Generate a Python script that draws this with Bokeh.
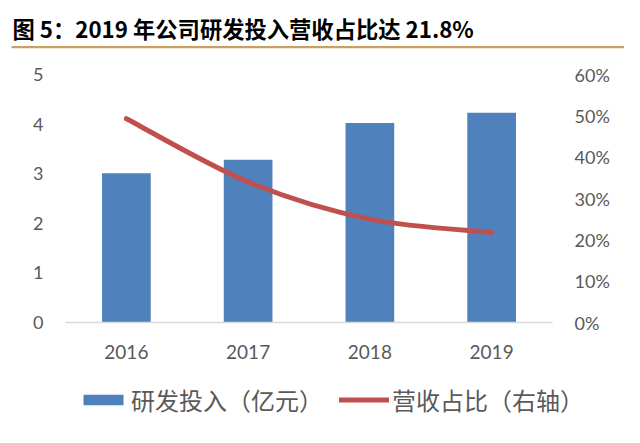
from bokeh.plotting import figure
from bokeh.layouts import column, row
from bokeh.models import (FactorRange, Range1d, LinearAxis, Legend, LegendItem,
                          PrintfTickFormatter)
from bokeh.core.properties import value
from bokeh.embed import file_html
from bokeh.resources import INLINE

# ---- data ----
years = ["2016", "2017", "2018", "2019"]
rd_spend = [3.01, 3.28, 4.02, 4.23]          # 研发投入（亿元）
rev_ratio = [49.3, 34.0, 25.0, 21.8]         # 营收占比（%），右轴
left_ticks = [0, 1, 2, 3, 4, 5]
right_ticks = [0, 10, 20, 30, 40, 50, 60]
title_text = "图 5：2019 年公司研发投入营收占比达 21.8%"
legend_labels = ["研发投入（亿元）", "营收占比（右轴）"]

LABEL_FONT = "Lato"
CJK_FONT = "Noto Sans CJK SC"
GRAY = "#595959"
BLUE = "#4f81bd"
RED = "#c0504d"
GOLD = "#c9a064"
W = 624

# ---- header: title + gold rule ----
top = figure(width=W, height=58, x_range=Range1d(0, W), y_range=Range1d(58, 0),
             x_axis_location=None, y_axis_location=None,
             min_border_left=0, min_border_right=0, min_border_top=0, min_border_bottom=0,
             output_backend="svg", toolbar_location=None)
top.outline_line_color = None
top.xgrid.grid_line_color = None
top.ygrid.grid_line_color = None
top.text(x=[12], y=[27], text=[title_text], text_font=value(CJK_FONT),
         text_font_size="22.3px", text_font_style="bold", text_color="#000000",
         text_baseline="middle", text_align="left")
top.segment(x0=[11], y0=[46.7], x1=[W], y1=[46.7], line_color=GOLD, line_width=2.2)

# ---- main chart ----
p = figure(x_range=FactorRange(*years), y_range=Range1d(0, 5),
           frame_width=487, frame_height=248,
           min_border_left=65, min_border_right=72,
           min_border_top=16, min_border_bottom=53,
           output_backend="svg", toolbar_location=None)
p.outline_line_color = None
p.xgrid.grid_line_color = None
p.ygrid.grid_line_color = None

yax = p.yaxis[0]
yax.ticker = left_ticks
yax.axis_line_color = None
yax.major_tick_line_color = None
yax.minor_tick_line_color = None
yax.major_tick_out = 0
yax.minor_tick_out = 0
yax.major_label_standoff = 22
yax.major_label_text_font = LABEL_FONT
yax.major_label_text_font_size = "18px"
yax.major_label_text_color = GRAY

xax = p.xaxis[0]
xax.axis_line_color = "#d9d9d9"
xax.axis_line_width = 1.5
xax.major_tick_line_color = None
xax.minor_tick_line_color = None
xax.major_tick_out = 0
xax.major_label_standoff = 22
xax.major_label_text_font = LABEL_FONT
xax.major_label_text_font_size = "19px"
xax.major_label_text_color = GRAY

p.extra_y_ranges = {"r": Range1d(0, 60)}
rax = LinearAxis(y_range_name="r", ticker=right_ticks,
                 formatter=PrintfTickFormatter(format="%d%%"))
rax.axis_line_color = None
rax.major_tick_line_color = None
rax.minor_tick_line_color = None
rax.major_tick_out = 0
rax.minor_tick_out = 0
rax.major_label_standoff = 22
rax.major_label_text_font = LABEL_FONT
rax.major_label_text_font_size = "18px"
rax.major_label_text_color = GRAY
p.add_layout(rax, "right")

p.vbar(x=years, top=rd_spend, width=0.4, fill_color=BLUE, line_color=None)

# smoothed line (Excel-style smoothing through the data points)
xs = [i + 0.5 for i in range(len(years))]
pts = list(zip(xs, rev_ratio))
n = len(pts)
x0, y0, x1, y1, cx0, cy0, cx1, cy1 = [], [], [], [], [], [], [], []
for i in range(n - 1):
    pa = pts[i - 1] if i > 0 else pts[i]
    pb = pts[i]
    pc = pts[i + 1]
    pd = pts[i + 2] if i + 2 < n else pts[i + 1]
    x0.append(pb[0]); y0.append(pb[1])
    x1.append(pc[0]); y1.append(pc[1])
    cx0.append(pb[0] + (pc[0] - pa[0]) / 6); cy0.append(pb[1] + (pc[1] - pa[1]) / 6)
    cx1.append(pc[0] - (pd[0] - pb[0]) / 6); cy1.append(pc[1] - (pd[1] - pb[1]) / 6)
p.bezier(x0=x0, y0=y0, x1=x1, y1=y1, cx0=cx0, cy0=cy0, cx1=cx1, cy1=cy1,
         y_range_name="r", line_color=RED, line_width=5, line_cap="round")

# ---- legend strip (its series sit outside the visible y range; only the key shows) ----
bot = figure(width=W, height=52, x_range=FactorRange(*years), y_range=Range1d(100, 200),
             x_axis_location=None, y_axis_location=None,
             min_border_left=0, min_border_right=0, min_border_top=0, min_border_bottom=0,
             output_backend="svg", toolbar_location=None)
bot.outline_line_color = None
bot.xgrid.grid_line_color = None
bot.ygrid.grid_line_color = None
lb = bot.vbar(x=years, top=rd_spend, width=0.4, fill_color=BLUE, line_color=None)
ll = bot.line(x=years, y=rev_ratio, line_color=RED, line_width=5, line_cap="round")
legend = Legend(items=[LegendItem(label=legend_labels[0], renderers=[lb]),
                       LegendItem(label=legend_labels[1], renderers=[ll])],
                orientation="horizontal", location=(78, 10),
                glyph_width=50, glyph_height=13, label_standoff=3, spacing=16,
                padding=0, margin=0, border_line_color=None,
                background_fill_alpha=0,
                label_text_font=CJK_FONT, label_text_font_size="24px",
                label_text_color=GRAY)
bot.add_layout(legend)

layout = column(row(top), p, row(bot), spacing=0)
open("out.html", "w").write(file_html(layout, INLINE))
